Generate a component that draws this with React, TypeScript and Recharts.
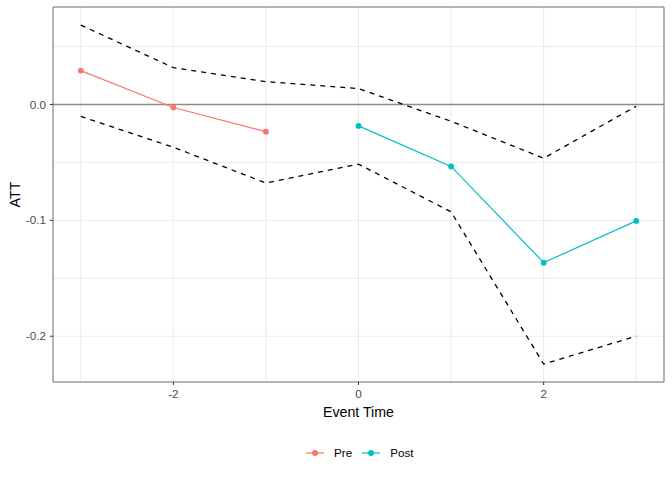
import React from "react"
import {
  ComposedChart,
  Line,
  XAxis,
  YAxis,
  CartesianGrid,
  ReferenceLine,
  ReferenceArea,
  Label,
} from "recharts"

const eventTime = [-3, -2, -1, 0, 1, 2, 3]
const att = [0.0292, -0.0026, -0.0235, -0.0185, -0.0535, -0.1365, -0.1005]
const upper = [0.0685, 0.0318, 0.0197, 0.0137, -0.0145, -0.0464, -0.0015]
const lower = [-0.0103, -0.0369, -0.0678, -0.0515, -0.0927, -0.224, -0.2]
const xTicks = [-2, 0, 2]
const yTicks = [-0.2, -0.1, 0]
const xGrid = [-3, -2, -1, 0, 1, 2, 3]
const yGrid = [-0.2, -0.15, -0.1, -0.05, 0, 0.05]

const rows = eventTime.map((t, i) => ({ t, att: att[i], upper: upper[i], lower: lower[i] }))
const preRows = rows.filter((r) => r.t < 0)
const postRows = rows.filter((r) => r.t >= 0)

const X_DOMAIN: [number, number] = [-3.3, 3.3]
const Y_DOMAIN: [number, number] = [-0.2395, 0.0841]
const FONT = "'Liberation Sans', Arial, sans-serif"
const PRE = "#F8766D"
const POST = "#00BFC4"

const tickStyle = { fill: "#4d4d4d", fontSize: 11.7, fontFamily: FONT }

function LegendKey({ color }: { color: string }) {
  return (
    <svg width={18} height={10} style={{ display: "block" }}>
      <line x1={0} y1={5} x2={18} y2={5} stroke={color} strokeWidth={1.2} />
      <circle cx={9} cy={5} r={2.9} fill={color} />
    </svg>
  )
}

export default function App() {
  return (
    <div style={{ position: "absolute", top: 0, left: 0, width: 672, height: 480, background: "#fff" }}>
      <ComposedChart width={672} height={480} margin={{ top: 7, right: 8, bottom: 0, left: 0 }}>
        <CartesianGrid
          stroke="#ebebeb"
          strokeWidth={1}
          horizontalValues={yGrid}
          verticalValues={xGrid}
        />
        <XAxis
          type="number"
          dataKey="t"
          domain={X_DOMAIN}
          ticks={xTicks}
          height={98}
          allowDataOverflow
          axisLine={false}
          tickSize={3}
          tickMargin={5}
          tickLine={{ stroke: "#333333" }}
          tick={tickStyle}
          tickFormatter={(v: number) => String(v)}
        >
          <Label
            content={({ viewBox }: any) => (
              <text
                x={viewBox.x + viewBox.width / 2}
                y={411.7}
                textAnchor="middle"
                dominantBaseline="central"
                fill="#000"
                fontSize={14.2}
                fontFamily={FONT}
              >
                Event Time
              </text>
            )}
          />
        </XAxis>
        <YAxis
          type="number"
          domain={Y_DOMAIN}
          ticks={yTicks}
          width={53}
          allowDataOverflow
          axisLine={false}
          tickSize={3}
          tickMargin={4}
          tickLine={{ stroke: "#333333" }}
          tick={tickStyle}
          tickFormatter={(v: number) => v.toFixed(1)}
        >
          <Label
            content={({ viewBox }: any) => {
              const cx = 14.5
              const cy = viewBox.y + viewBox.height / 2
              return (
                <text
                  x={cx}
                  y={cy}
                  transform={`rotate(-90 ${cx} ${cy})`}
                  textAnchor="middle"
                  dominantBaseline="central"
                  fill="#000"
                  fontSize={14.2}
                  fontFamily={FONT}
                >
                  ATT
                </text>
              )
            }}
          />
        </YAxis>
        <ReferenceLine y={0} stroke="#8c8c8c" strokeWidth={1.5} />
        <Line
          data={rows}
          dataKey="upper"
          stroke="#000"
          strokeWidth={1.3}
          strokeDasharray="5 5"
          dot={false}
          activeDot={false}
          isAnimationActive={false}
        />
        <Line
          data={rows}
          dataKey="lower"
          stroke="#000"
          strokeWidth={1.3}
          strokeDasharray="5 5"
          dot={false}
          activeDot={false}
          isAnimationActive={false}
        />
        <Line
          data={preRows}
          dataKey="att"
          stroke={PRE}
          strokeWidth={1.2}
          dot={{ r: 2.9, fill: PRE, stroke: "none" }}
          activeDot={false}
          isAnimationActive={false}
        />
        <Line
          data={postRows}
          dataKey="att"
          stroke={POST}
          strokeWidth={1.2}
          dot={{ r: 2.9, fill: POST, stroke: "none" }}
          activeDot={false}
          isAnimationActive={false}
        />
        <ReferenceArea
          x1={X_DOMAIN[0]}
          x2={X_DOMAIN[1]}
          y1={Y_DOMAIN[0]}
          y2={Y_DOMAIN[1]}
          fill="none"
          stroke="#6b6b6b"
          strokeWidth={1}
          ifOverflow="visible"
        />
      </ComposedChart>
      <div
        style={{
          position: "absolute",
          top: 444,
          left: 306,
          display: "flex",
          alignItems: "center",
          fontFamily: FONT,
          fontSize: 11.7,
          color: "#000",
          lineHeight: "18px",
        }}
      >
        <LegendKey color={PRE} />
        <span style={{ marginLeft: 10, marginRight: 10 }}>Pre</span>
        <LegendKey color={POST} />
        <span style={{ marginLeft: 10 }}>Post</span>
      </div>
    </div>
  )
}
